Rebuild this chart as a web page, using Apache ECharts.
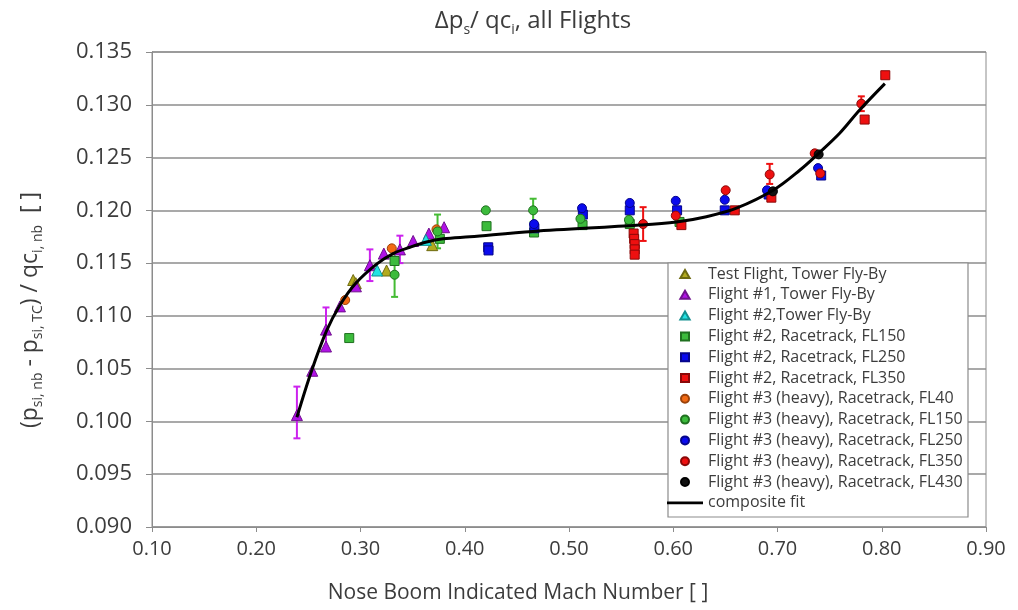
<!DOCTYPE html>
<html>
<head>
<meta charset="utf-8">
<script src="https://cdn.jsdelivr.net/npm/echarts@6/dist/echarts.min.js"></script>
<style>
  html, body { margin: 0; padding: 0; background: #fff; }
  #chart { width: 1018px; height: 610px; }
</style>
</head>
<body>
<div id="chart"></div>
<script>
// Axis ticks
const xTicks = [0.10, 0.20, 0.30, 0.40, 0.50, 0.60, 0.70, 0.80, 0.90];
const yTicks = [0.090, 0.095, 0.100, 0.105, 0.110, 0.115, 0.120, 0.125, 0.130, 0.135];

// Measured points: [Mach, dps/qci]
const testFlightTower = [[0.2930, 0.1134], [0.2955, 0.1131], [0.3250, 0.1143], [0.3688, 0.1167]];
const flight1Tower = [[0.2390, 0.1006], [0.2537, 0.1048], [0.2669, 0.1087], [0.2669, 0.1071], [0.2803, 0.1109],
  [0.2956, 0.1128], [0.3090, 0.1148], [0.3224, 0.1159], [0.3378, 0.1163], [0.3505, 0.1171], [0.3656, 0.1178], [0.3802, 0.1184]];
const flight2Tower = [[0.3160, 0.1143], [0.3627, 0.1172]];
const flight2FL150 = [[0.2892, 0.1079], [0.3327, 0.1152], [0.3761, 0.1173], [0.4209, 0.1185], [0.4665, 0.1179],
  [0.5130, 0.1186], [0.5583, 0.1187], [0.6060, 0.1189]];
const flight2FL250 = [[0.4225, 0.1165], [0.4228, 0.1162], [0.4668, 0.1183], [0.5133, 0.1196], [0.5583, 0.1200],
  [0.6037, 0.1200], [0.6494, 0.1200], [0.6915, 0.1215], [0.7419, 0.1233]];
const flight2FL350 = [[0.5620, 0.1178], [0.5625, 0.1173], [0.5630, 0.1168], [0.5630, 0.1163], [0.5630, 0.1158],
  [0.6078, 0.1186], [0.6590, 0.1200], [0.6941, 0.1212], [0.7836, 0.1286], [0.8034, 0.1328]];
const flight3FL40 = [[0.2853, 0.1115], [0.3300, 0.1164], [0.3729, 0.1182]];
const flight3FL150 = [[0.3327, 0.1139], [0.3739, 0.1180], [0.4202, 0.1200], [0.4656, 0.1200], [0.5110, 0.1192], [0.5575, 0.1191]];
const flight3FL250 = [[0.4665, 0.1187], [0.5125, 0.1202], [0.5583, 0.1207], [0.6024, 0.1209], [0.6494, 0.1210], [0.6899, 0.1219], [0.7389, 0.1240]];
const flight3FL350 = [[0.5711, 0.1187], [0.6024, 0.1195], [0.6503, 0.1219], [0.6925, 0.1234], [0.7357, 0.1254], [0.7410, 0.1235], [0.7804, 0.1301]];
const flight3FL430 = [[0.6956, 0.1218], [0.7395, 0.1253]];

// Uncertainty bars: [Mach, low, high]
const errFlight1 = [[0.2390, 0.0984, 0.1033], [0.2669, 0.1067, 0.1108], [0.3090, 0.1133, 0.1163], [0.3378, 0.1150, 0.1176]];
const errFL150 = [[0.3327, 0.1118, 0.1162], [0.3739, 0.1164, 0.1196], [0.4656, 0.1189, 0.1211]];
const errFL350 = [[0.5711, 0.1171, 0.1203], [0.6925, 0.1225, 0.1244], [0.7804, 0.1294, 0.1308]];

// Composite fit
const fitMach = [0.2390, 0.2531, 0.2675, 0.2802, 0.2946, 0.3154, 0.3313, 0.3474, 0.3634, 0.3793,
  0.4049, 0.4653, 0.5679, 0.6031, 0.6318, 0.6606, 0.6957, 0.7213, 0.7405, 0.7596, 0.7788, 0.8030];
const fitValue = [0.1004, 0.1048, 0.1086, 0.1110, 0.1130, 0.1149, 0.1159, 0.1165, 0.1170, 0.1173,
  0.1175, 0.1180, 0.1186, 0.1189, 0.1194, 0.1202, 0.1219, 0.1238, 0.1255, 0.1273, 0.1295, 0.1320];

const FONT = '"Open Sans", "Noto Sans", sans-serif';
const TEXT = '#3c3c3c';

const ICON_TRI = 'path://M5,0L10,8.66L0,8.66Z';
const ICON_SQ = 'path://M0,0H10V10H0Z';
const ICON_LINE = 'path://M0,0H40V3H0Z';

function scatter(name, data, symbol, color, border, size) {
  return {
    name, type: 'scatter', data, symbol, symbolSize: size,
    itemStyle: { color, borderColor: border, borderWidth: 1, opacity: 1 },
    z: 4
  };
}

function errorBars(name, data, color) {
  return {
    name, type: 'custom', data, z: 3,
    encode: { x: 0, y: [1, 2] },
    renderItem(params, api) {
      const lo = api.coord([api.value(0), api.value(1)]);
      const hi = api.coord([api.value(0), api.value(2)]);
      const st = { stroke: color, lineWidth: 2 };
      return {
        type: 'group',
        children: [
          { type: 'line', shape: { x1: lo[0], y1: lo[1], x2: hi[0], y2: hi[1] }, style: st },
          { type: 'line', shape: { x1: lo[0] - 3.5, y1: lo[1], x2: lo[0] + 3.5, y2: lo[1] }, style: st },
          { type: 'line', shape: { x1: hi[0] - 3.5, y1: hi[1], x2: hi[0] + 3.5, y2: hi[1] }, style: st }
        ]
      };
    }
  };
}

const names = [
  'Test Flight, Tower Fly-By',
  'Flight #1, Tower Fly-By',
  'Flight #2,Tower Fly-By',
  'Flight #2, Racetrack, FL150',
  'Flight #2, Racetrack, FL250',
  'Flight #2, Racetrack, FL350',
  'Flight #3 (heavy), Racetrack, FL40',
  'Flight #3 (heavy), Racetrack, FL150',
  'Flight #3 (heavy), Racetrack, FL250',
  'Flight #3 (heavy), Racetrack, FL350',
  'Flight #3 (heavy), Racetrack, FL430',
  'composite fit'
];
const legendIcons = [ICON_TRI, ICON_TRI, ICON_TRI, ICON_SQ, ICON_SQ, ICON_SQ,
  'circle', 'circle', 'circle', 'circle', 'circle', ICON_LINE];

// Rich-text styles: normal run and lowered subscript
function richStyles(size, subSize, colorKey) {
  const n = { fontSize: size, fontFamily: FONT, lineHeight: size + 8 };
  const s = { fontSize: subSize, fontFamily: FONT, lineHeight: subSize, verticalAlign: 'bottom' };
  n[colorKey] = TEXT; s[colorKey] = TEXT;
  return { n, s };
}

const chart = echarts.init(document.getElementById('chart'), null, { renderer: 'canvas' });

chart.setOption({
  animation: false,
  backgroundColor: '#fff',
  textStyle: { fontFamily: FONT },
  title: {
    text: '{n|Δp}{s|s}{n|/ qc}{s|i}{n|, all Flights}',
    left: 528, top: 0, textAlign: 'center',
    textStyle: {
      fontFamily: FONT, fontSize: 24, fontWeight: 'normal', color: TEXT,
      rich: richStyles(24, 14, 'color')
    }
  },
  grid: { left: 152, right: 32, top: 52, bottom: 83, show: true, borderColor: '#8c8c8c', borderWidth: 1 },
  xAxis: {
    type: 'value', min: xTicks[0], max: xTicks[xTicks.length - 1], interval: 0.1,
    axisLine: { lineStyle: { color: '#8c8c8c', width: 1 } },
    axisTick: { show: true, length: 5, lineStyle: { color: '#8c8c8c' } },
    axisLabel: { formatter: v => v.toFixed(2), fontSize: 20, color: TEXT, margin: 12, fontFamily: FONT },
    splitLine: { show: false }
  },
  yAxis: {
    type: 'value', min: yTicks[0], max: yTicks[yTicks.length - 1], interval: 0.005,
    axisLine: { show: true, lineStyle: { color: '#8c8c8c', width: 1 } },
    axisTick: { show: true, length: 6, lineStyle: { color: '#8c8c8c' } },
    axisLabel: { formatter: v => v.toFixed(3), fontSize: 22, color: TEXT, margin: 20, fontFamily: FONT },
    splitLine: { show: true, lineStyle: { color: '#8c8c8c', width: 1.5 } }
  },
  legend: {
    orient: 'vertical', left: 667, top: 266, padding: 0,
    itemWidth: 36, itemHeight: 8, itemGap: 4.8,
    data: names.map((n, i) => ({ name: n, icon: legendIcons[i] })),
    textStyle: { fontFamily: FONT, fontSize: 16, color: TEXT, lineHeight: 16 },
    z: 20
  },
  graphic: [
    {
      type: 'rect', z: 15, silent: true,
      shape: { x: 668, y: 263, width: 300, height: 254 },
      style: { fill: '#fff', stroke: '#8c8c8c', lineWidth: 1.2 }
    },
    {
      type: 'text', z: 15, silent: true,
      x: 30, y: 310, rotation: Math.PI / 2,
      style: {
        text: '{n|(p}{s|si, nb}{n| - p}{s|si, TC}{n|) / qc}{s|i, nb}{n|  [ ]}',
        font: '23px ' + FONT, fill: TEXT, align: 'center', verticalAlign: 'middle',
        rich: richStyles(23, 14, 'fill')
      }
    },
    {
      type: 'text', z: 15, silent: true,
      x: 518, y: 593,
      style: {
        text: 'Nose Boom Indicated Mach Number [ ]',
        font: '21px ' + FONT, fill: TEXT, align: 'center', verticalAlign: 'middle'
      }
    }
  ],
  series: [
    errorBars('err-f1', errFlight1, '#cc22ee'),
    errorBars('err-fl150', errFL150, '#44bb33'),
    errorBars('err-fl350', errFL350, '#ee1111'),
    {
      name: names[11], type: 'line', symbol: 'none', smooth: 0.35,
      data: fitMach.map((m, i) => [m, fitValue[i]]),
      lineStyle: { color: '#000', width: 3 }, itemStyle: { color: '#000' }, z: 5
    },
    scatter(names[0], testFlightTower, 'triangle', '#b2aa1e', '#6e6a10', 11),
    scatter(names[1], flight1Tower, 'triangle', '#b012e6', '#70108e', 11),
    scatter(names[2], flight2Tower, 'triangle', '#22e3e3', '#129090', 11),
    scatter(names[3], flight2FL150, 'rect', '#3cbb3c', '#1f701f', 9),
    scatter(names[4], flight2FL250, 'rect', '#0a0aee', '#05058a', 9),
    scatter(names[5], flight2FL350, 'rect', '#ee1010', '#8a0808', 9),
    scatter(names[6], flight3FL40, 'circle', '#f26a14', '#9a420a', 9),
    scatter(names[7], flight3FL150, 'circle', '#3cbb3c', '#1f701f', 9),
    scatter(names[8], flight3FL250, 'circle', '#0a0aee', '#05058a', 9),
    scatter(names[9], flight3FL350, 'circle', '#ee1010', '#8a0808', 9),
    scatter(names[10], flight3FL430, 'circle', '#111', '#000', 9)
  ]
});
</script>
</body>
</html>
